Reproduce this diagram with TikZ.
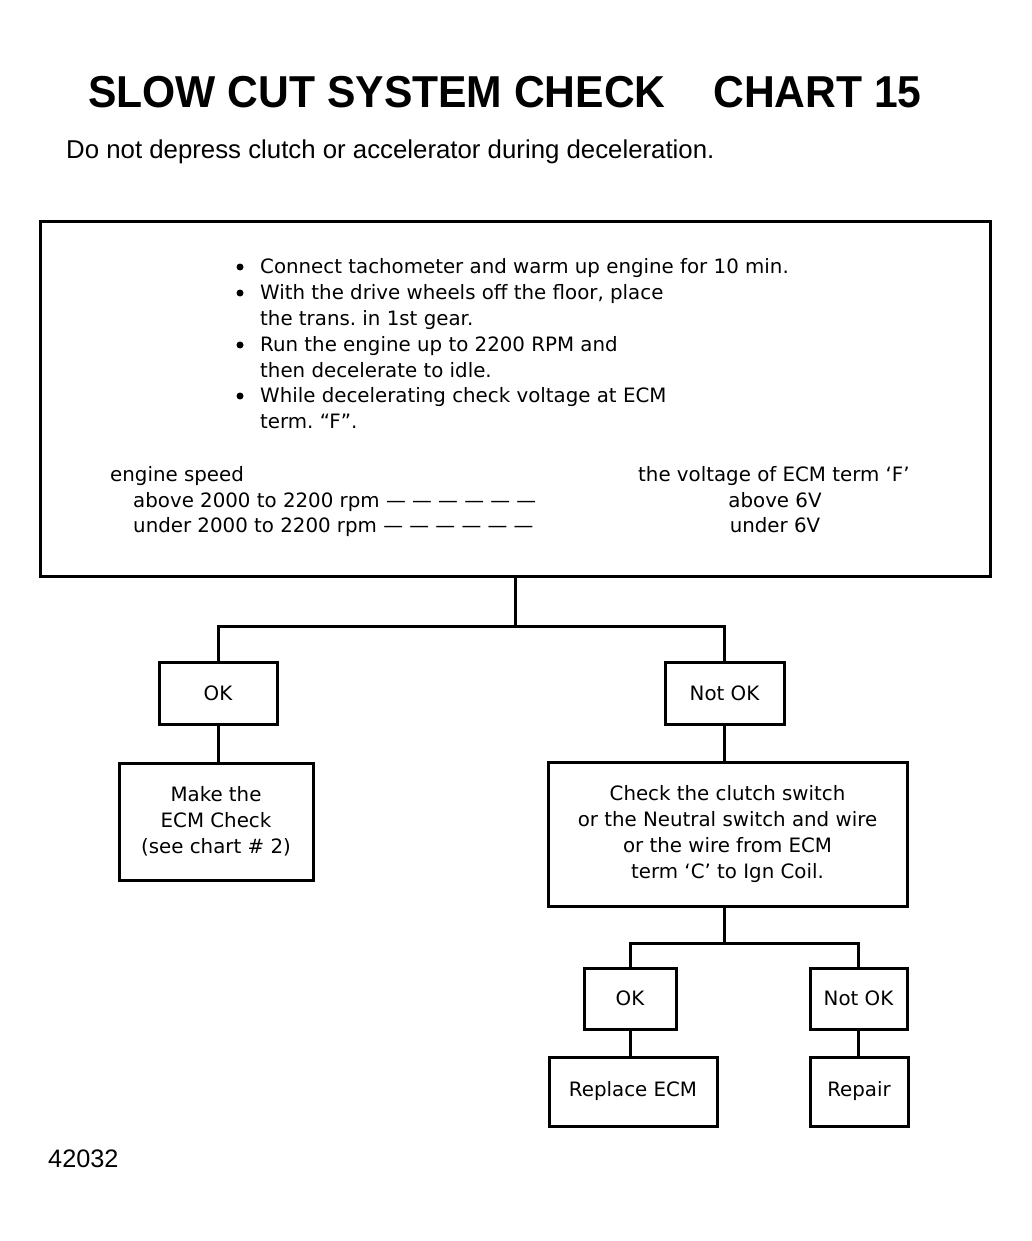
\documentclass[tikz,border=0pt]{standalone}
\usepackage{fontspec}
\setmainfont{Liberation Sans}
\newfontfamily\boxfont{DejaVu Sans}
\newcommand{\boxtext}{\boxfont\fontsize{19.8}{25.8}\selectfont}
\frenchspacing
\tikzset{
  box/.style={draw, line width=3pt, font=\boxtext, align=center, inner sep=0pt},
  txt/.style={font=\boxtext, inner sep=0pt, anchor=base west},
  dot/.style={font=\boxtext, inner sep=0pt, anchor=base},
  blob/.style={circle, fill, inner sep=0pt, minimum size=7pt},
  link/.style={line width=3pt},
}

\begin{document}
\begin{tikzpicture}[x=1pt,y=-1pt]
    \useasboundingbox (0,0) rectangle (1031,1241);
    %%title
    \node[inner sep=0pt, anchor=base west] (title) at (88,108)
      {\scalebox{0.953}[1]{\fontsize{44.7}{50}\selectfont\bfseries SLOW CUT SYSTEM CHECK\hspace{50pt}CHART 15}};
    \node[inner sep=0pt, anchor=base west, font=\fontsize{25.8}{30}\selectfont] (note) at (66,159)
      {Do not depress clutch or accelerator during deceleration.};
    %%setup box
    \node[box, minimum width=950pt, minimum height=354pt] (setup) at (515,399) {};
    \node[blob] (d1) at (240,267) {};
    \node[txt] (t1) at (260,273) {Connect tachometer and warm up engine for 10 min.};
    \node[blob] (d2) at (240,293) {};
    \node[txt] (t2) at (260,299) {With the drive wheels off the floor, place};
    \node[txt] (t3) at (260,325) {the trans. in 1st gear.};
    \node[blob] (d3) at (240,345) {};
    \node[txt] (t4) at (260,351) {Run the engine up to 2200 RPM and};
    \node[txt] (t5) at (260,377) {then decelerate to idle.};
    \node[blob] (d4) at (240,396) {};
    \node[txt] (t6) at (260,402) {While decelerating check voltage at ECM};
    \node[txt] (t7) at (260,428) {term. “F”.};
    %%speed vs voltage
    \node[txt] (speed) at (110,481) {engine speed};
    \node[txt] (above) at (133,507) {above 2000 to 2200 rpm\ — — — — — —};
    \node[txt] (under) at (133,532) {under 2000 to 2200 rpm\ — — — — — —};
    \node[txt] (volt) at (638,481) {the voltage of ECM term ‘F’};
    \node[dot] (hi) at (775,507) {above 6V};
    \node[dot] (lo) at (775,532) {under 6V};
    %%results
    \node[box, minimum width=118pt, minimum height=62pt] (ok) at (218,693) {OK};
    \node[box, minimum width=119pt, minimum height=62pt] (notok) at (724.5,693) {Not OK};
    \node[box, minimum width=194pt, minimum height=117pt] (make) at (216,821.5)
      {Make the\\ECM Check\\(see chart \# 2)};
    \node[box, minimum width=359pt, minimum height=144pt] (check) at (727.5,834)
      {Check the clutch switch\\or the Neutral switch and wire\\or the wire from ECM\\term ‘C’ to Ign Coil.};
    \node[box, minimum width=92pt, minimum height=61pt] (okb) at (630,998.5) {OK};
    \node[box, minimum width=97pt, minimum height=61pt] (notokb) at (858.5,998.5) {Not OK};
    \node[box, minimum width=168pt, minimum height=69pt] (replace) at (633,1091.5) {Replace ECM};
    \node[box, minimum width=98pt, minimum height=69pt] (repair) at (859,1091.5) {Repair};
    %%connectors
    \coordinate (fork1) at (515,626);
    \coordinate (fork2) at (724,943);
    \draw[link] (setup.south) -- (fork1);
    \draw[link] (ok.north) |- (fork1) -| (notok.north);
    \draw[link] (ok.south) -- (ok.south |- make.north);
    \draw[link] (notok.south) -- (notok.south |- check.north);
    \draw[link] (check.south -| fork2) -- (fork2);
    \draw[link] (okb.north) |- (fork2) -| (notokb.north);
    \draw[link] (okb.south) -- (okb.south |- replace.north);
    \draw[link] (notokb.south) -- (notokb.south |- repair.north);
    %%figure number
    \node[inner sep=0pt, anchor=base west, font=\fontsize{25.3}{30}\selectfont] (fig) at (48,1167) {42032};
\end{tikzpicture}
\end{document}
